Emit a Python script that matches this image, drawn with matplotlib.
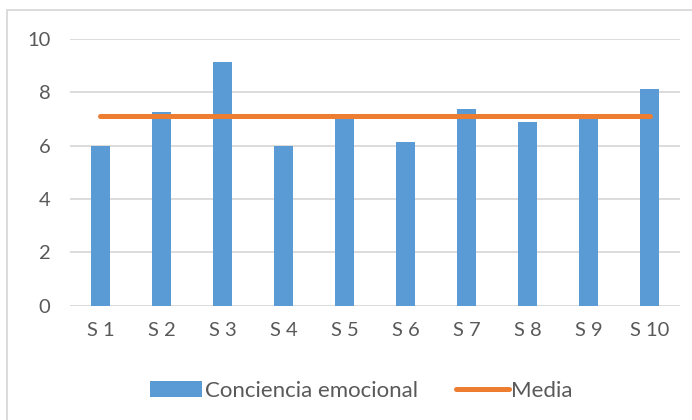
import numpy as np
import matplotlib
matplotlib.use("Agg")
import matplotlib.pyplot as plt
from matplotlib.patches import Rectangle

# scores per subject
sujetos = ["S 1", "S 2", "S 3", "S 4", "S 5", "S 6", "S 7", "S 8", "S 9", "S 10"]
conciencia = [6.0, 7.26, 9.14, 6.0, 7.0, 6.13, 7.38, 6.88, 7.0, 8.13]
media = [7.1] * len(sujetos)

yticks = [0, 2, 4, 6, 8, 10]

plt.rcParams["font.family"] = ["Lato", "DejaVu Sans"]
texto = "#595959"
azul = "#5B9BD5"
naranja = "#ED7D31"

fig = plt.figure(figsize=(6.92, 4.2), dpi=100)
ax = fig.add_axes([0.101, 0.272, 0.882, 0.635])

x = np.arange(len(sujetos))
barras = ax.bar(x, conciencia, width=0.31, color=azul, zorder=2, label="Conciencia emocional")
linea, = ax.plot(x, media, color=naranja, linewidth=3.6, solid_capstyle="round", zorder=3, label="Media")

ax.set_xlim(-0.5, len(sujetos) - 0.5)
ax.set_ylim(0, 10)
ax.set_yticks(yticks)
ax.set_xticks(x)
ax.set_xticklabels(sujetos)
ax.yaxis.grid(True, color="#d9d9d9", linewidth=1.3, zorder=0)
ax.tick_params(axis="both", length=0, colors=texto, labelsize=14.5)
ax.tick_params(axis="y", pad=14)
ax.tick_params(axis="x", pad=12)
for s in ax.spines.values():
    s.set_visible(False)

# chart frame (only top and left edges fall inside the image)
fig.add_artist(Rectangle((7 / 692, -0.1), 1.0, 1.0 - 10 / 420 + 0.1,
                         transform=fig.transFigure, fill=False,
                         edgecolor="#d9d9d9", linewidth=1.3))

leg = fig.legend(handles=[barras, linea], loc="center", bbox_to_anchor=(0.522, 0.069),
                 ncol=2, frameon=False, fontsize=16, handlelength=2.35,
                 handletextpad=0.12, columnspacing=1.75)
for t in leg.get_texts():
    t.set_color(texto)

fig.savefig("out.png", dpi=100)
